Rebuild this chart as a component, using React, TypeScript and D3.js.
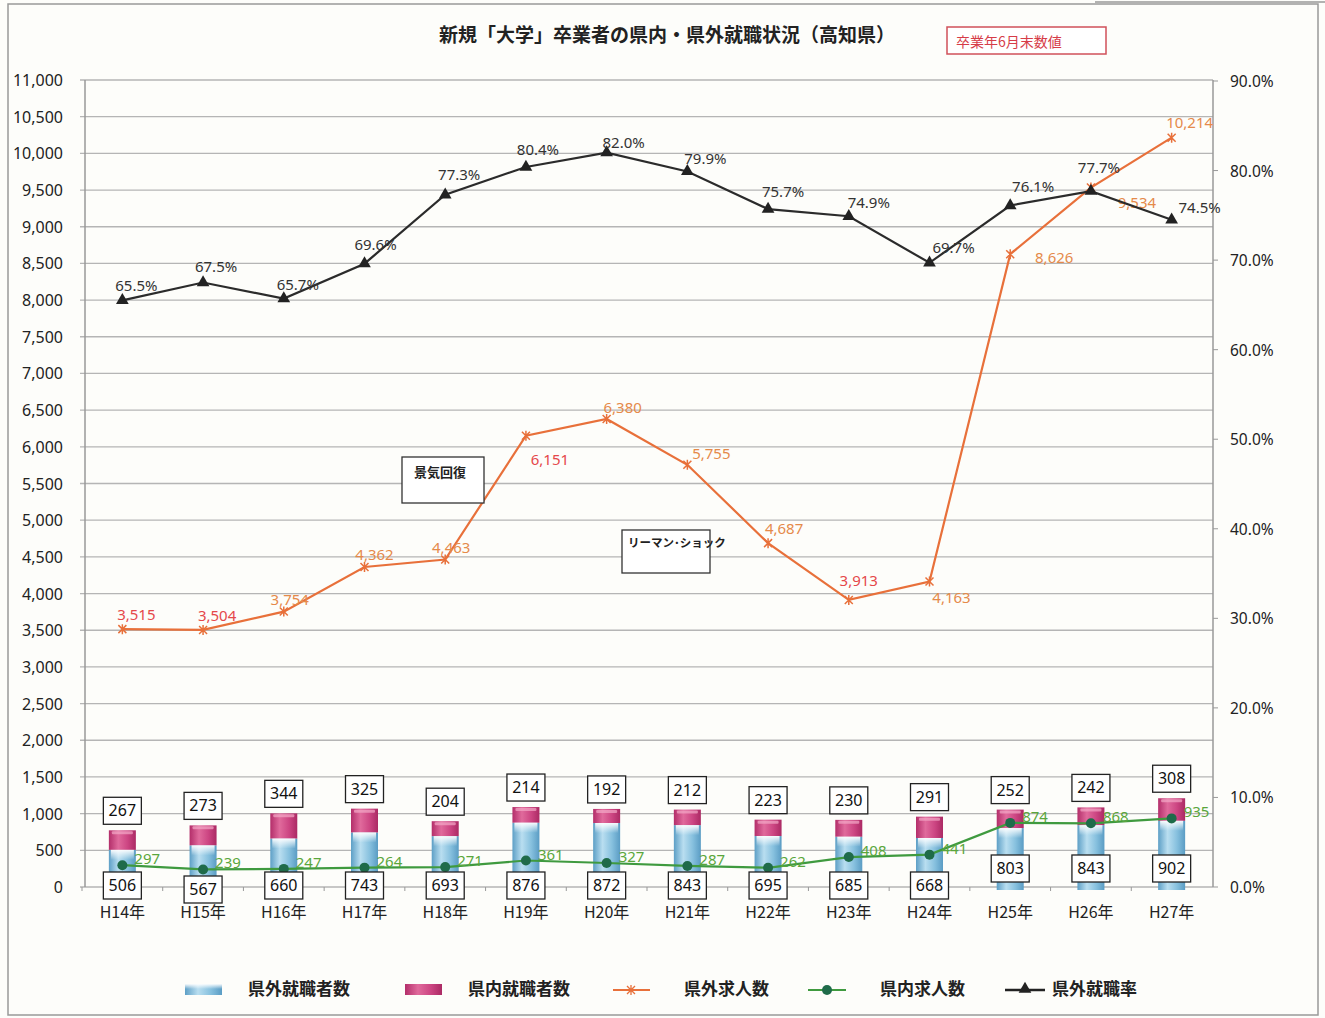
import * as d3 from 'd3';

// 高知県 新規大学卒業者 県内・県外就職状況
const years = ['H14年', 'H15年', 'H16年', 'H17年', 'H18年', 'H19年', 'H20年', 'H21年', 'H22年', 'H23年', 'H24年', 'H25年', 'H26年', 'H27年'];
const outsideEmployed = [506, 567, 660, 743, 693, 876, 872, 843, 695, 685, 668, 803, 843, 902];
const insideEmployed = [267, 273, 344, 325, 204, 214, 192, 212, 223, 230, 291, 252, 242, 308];
const outsideOffers = [3515, 3504, 3754, 4362, 4463, 6151, 6380, 5755, 4687, 3913, 4163, 8626, 9534, 10214];
const insideOffers = [297, 239, 247, 264, 271, 361, 327, 287, 262, 408, 441, 874, 868, 935];
const outsideRate = [65.5, 67.5, 65.7, 69.6, 77.3, 80.4, 82.0, 79.9, 75.7, 74.9, 69.7, 76.1, 77.7, 74.5];

const leftTicks = d3.range(0, 11001, 500);
const rightTicks = d3.range(0, 91, 10);

// label nudges (layout only)
const offerLabelShift = [[14, -14], [14, -14], [6, -12], [10, -12], [6, -12], [24, 24], [16, -11], [24, -11], [16, -14], [10, -19], [22, 16], [44, 4], [46, 15], [18, -15]];
const rateLabelShift = [[14, -14], [13, -16], [14, -14], [11, -19], [14, -20], [12, -17], [17, -10], [18, -12], [15, -17], [20, -13], [24, -15], [23, -18], [8, -23], [28, -12]];

const W = 1325;
const H = 1018;
const left = 85;
const right = 1213;
const top = 80;
const bottom = 887;

const jp = '"Noto Sans CJK JP", "Noto Sans", sans-serif';
const num = '"Noto Sans", "Open Sans", sans-serif';

export default function App() {
  const x = d3.scaleBand().domain(years).range([82, 1212]);
  const cx = (i: number) => (x(years[i]) as number) + x.bandwidth() / 2;
  const y = d3.scaleLinear().domain([0, 11000]).range([bottom, top]);
  const yr = d3.scaleLinear().domain([0, 90]).range([bottom, top + 1]);
  const barW = 27;

  const offerLine = d3.line<number>().x((_, i) => cx(i)).y(d => y(d));
  const insideLine = d3.line<number>().x((_, i) => cx(i)).y(d => y(d));
  const rateLine = d3.line<number>().x((_, i) => cx(i)).y(d => yr(d));
  const tri = d3.symbol(d3.symbolTriangle, 70)();

  return (
    <div style={{ position: 'absolute', left: 0, top: 0 }}>
      <svg width={W} height={H} style={{ display: 'block', background: '#fdfdfa' }}>
        <defs>
          <linearGradient id="blue" x1="0" x2="1" y1="0" y2="0">
            <stop offset="0" stopColor="#5d9fc6" />
            <stop offset="0.35" stopColor="#b9def0" />
            <stop offset="0.7" stopColor="#86c0de" />
            <stop offset="1" stopColor="#5a9cc4" />
          </linearGradient>
          <linearGradient id="pink" x1="0" x2="1" y1="0" y2="0">
            <stop offset="0" stopColor="#b32e6a" />
            <stop offset="0.35" stopColor="#e06a9c" />
            <stop offset="0.7" stopColor="#cc4582" />
            <stop offset="1" stopColor="#ab2a64" />
          </linearGradient>
          <linearGradient id="cap" x1="0" x2="0" y1="0" y2="1">
            <stop offset="0" stopColor="#ffffff" stopOpacity={0.95} />
            <stop offset="1" stopColor="#ffffff" stopOpacity={0} />
          </linearGradient>
        </defs>

        <rect x={8} y={4} width={1310} height={1011} fill="none" stroke="#999" strokeWidth={1.5} />
        <line x1={1095} y1={2} x2={1325} y2={2} stroke="#999" strokeWidth={1.5} />

        {/* grid */}
        {leftTicks.map(t => (
          <g key={t}>
            <line x1={left - 5} x2={right} y1={y(t)} y2={y(t)} stroke="#b5b5b5" strokeWidth={1.3} />
            <text x={63} y={y(t) + 6} textAnchor="end" fontFamily={num} fontSize={16} fill="#222">
              {d3.format(',')(t)}
            </text>
          </g>
        ))}
        {rightTicks.map(t => (
          <g key={t}>
            <line x1={right} x2={right + 5} y1={yr(t)} y2={yr(t)} stroke="#999" />
            <text x={1230} y={yr(t) + 6} fontFamily={num} fontSize={15.5} fill="#222">
              {t.toFixed(1)}%
            </text>
          </g>
        ))}
        <line x1={left} x2={left} y1={top} y2={bottom} stroke="#999" strokeWidth={1.5} />
        <line x1={right} x2={right} y1={top} y2={bottom} stroke="#999" strokeWidth={1.5} />
        {years.map(yy => (
          <line key={yy} x1={x(yy) as number} x2={x(yy) as number} y1={bottom} y2={bottom + 4} stroke="#999" />
        ))}

        {/* stacked bars */}
        {years.map((yy, i) => {
          const bx = cx(i) - barW / 2;
          const y0 = y(0);
          const y1 = y(outsideEmployed[i]);
          const y2 = y(outsideEmployed[i] + insideEmployed[i]);
          return (
            <g key={yy}>
              <rect x={bx} y={y1} width={barW} height={y0 - y1 + 3} fill="url(#blue)" />
              <rect x={bx} y={y2} width={barW} height={y1 - y2} fill="url(#pink)" />
              <rect x={bx + 2} y={y1} width={barW - 4} height={10} fill="url(#cap)" />
              <rect x={bx + 3} y={y2 + 1} width={barW - 6} height={3} rx={1} fill="#f3a9c8" opacity={0.7} />
            </g>
          );
        })}

        {/* 県内求人数 */}
        <path d={insideLine(insideOffers) as string} fill="none" stroke="#3f9a3f" strokeWidth={2.2} />
        {insideOffers.map((v, i) => (
          <g key={i}>
            <circle cx={cx(i)} cy={y(v)} r={5} fill="#1f6b4a" />
            <text x={cx(i) + 12} y={y(v) - 1} fontFamily={num} fontSize={15} fill="#5aa63c">
              {v}
            </text>
          </g>
        ))}

        {/* value boxes */}
        {years.map((yy, i) => {
          const high = insideOffers[i] > 600;
          const by = high ? 868 : i === 1 ? 889 : 885;
          const ty = y(outsideEmployed[i] + insideEmployed[i]) - 20;
          return (
            <g key={yy} fontFamily={num} fontSize={16} fill="#111">
              <rect x={cx(i) - 19} y={by - 13} width={38} height={27} fill="#fff" stroke="#222" strokeWidth={1.3} />
              <text x={cx(i)} y={by + 6} textAnchor="middle">{outsideEmployed[i]}</text>
              <rect x={cx(i) - 19} y={ty - 13} width={38} height={27} fill="#fff" stroke="#222" strokeWidth={1.3} />
              <text x={cx(i)} y={ty + 6} textAnchor="middle">{insideEmployed[i]}</text>
            </g>
          );
        })}

        {/* 県外求人数 */}
        <path d={offerLine(outsideOffers) as string} fill="none" stroke="#e8703a" strokeWidth={2.2} />
        {outsideOffers.map((v, i) => {
          const px = cx(i);
          const py = y(v);
          const [dx, dy] = offerLabelShift[i];
          return (
            <g key={i}>
              <path d={`M${px - 4},${py - 4}L${px + 4},${py + 4}M${px - 4},${py + 4}L${px + 4},${py - 4}M${px},${py - 5}L${px},${py + 5}`} stroke="#e8703a" strokeWidth={1.5} />
              <text x={px + dx} y={py + dy + 5} textAnchor="middle" fontFamily={num} fontSize={15} fill={i === 5 || i < 2 || i === 9 ? '#e5484a' : '#e58a4a'}>
                {d3.format(',')(v)}
              </text>
            </g>
          );
        })}

        {/* 県外就職率 */}
        <path d={rateLine(outsideRate) as string} fill="none" stroke="#2b2b2b" strokeWidth={2.2} />
        {outsideRate.map((v, i) => {
          const [dx, dy] = rateLabelShift[i];
          return (
            <g key={i}>
              <path d={tri as string} transform={`translate(${cx(i)},${yr(v)})`} fill="#222" />
              <text x={cx(i) + dx} y={yr(v) + dy + 5} textAnchor="middle" fontFamily={num} fontSize={15} fill="#333">
                {v.toFixed(1)}%
              </text>
            </g>
          );
        })}

        {/* x labels */}
        {years.map((yy, i) => (
          <text key={yy} x={cx(i)} y={918} textAnchor="middle" fontFamily={jp} fontSize={16} fill="#222">
            {yy}
          </text>
        ))}

        {/* annotations */}
        <rect x={402} y={457} width={82} height={46} fill="#fff" stroke="#333" strokeWidth={1.3} />
        <text x={414} y={477} fontFamily={jp} fontSize={13} fontWeight="bold" fill="#222">景気回復</text>
        <rect x={622} y={530} width={88} height={43} fill="#fff" stroke="#333" strokeWidth={1.3} />
        <text x={628} y={547} fontFamily={jp} fontSize={11.5} fontWeight="bold" fill="#222">リーマン･ショック</text>

        {/* title */}
        <text x={667} y={42} textAnchor="middle" fontFamily={jp} fontSize={19} fontWeight="bold" fill="#222">
          新規「大学」卒業者の県内・県外就職状況（高知県）
        </text>
        <rect x={947} y={27} width={159} height={27} fill="#fff" stroke="#d0505a" strokeWidth={1.5} />
        <text x={956} y={47} fontFamily={jp} fontSize={14} fill="#d63c48">卒業年6月末数値</text>

        {/* legend */}
        <g fontFamily={jp} fontSize={17} fontWeight="bold" fill="#222">
          <rect x={185} y={984} width={37} height={11} fill="url(#blue)" />
          <rect x={185} y={984} width={37} height={5} fill="url(#cap)" />
          <text x={248} y={995}>県外就職者数</text>
          <rect x={405} y={984} width={37} height={11} fill="url(#pink)" />
          <text x={468} y={995}>県内就職者数</text>
          <line x1={613} x2={650} y1={990} y2={990} stroke="#e8703a" strokeWidth={2.2} />
          <path d="M627,986L635,994M627,994L635,986M631,985L631,995" stroke="#e8703a" strokeWidth={1.3} />
          <text x={684} y={995}>県外求人数</text>
          <line x1={808} x2={846} y1={990} y2={990} stroke="#3f9a3f" strokeWidth={2.2} />
          <circle cx={827} cy={990} r={5} fill="#1f6b4a" />
          <text x={880} y={995}>県内求人数</text>
          <line x1={1005} x2={1045} y1={990} y2={990} stroke="#222" strokeWidth={2.4} />
          <path d={tri as string} transform="translate(1025,989)" fill="#222" />
          <text x={1052} y={995}>県外就職率</text>
        </g>
      </svg>
    </div>
  );
}
